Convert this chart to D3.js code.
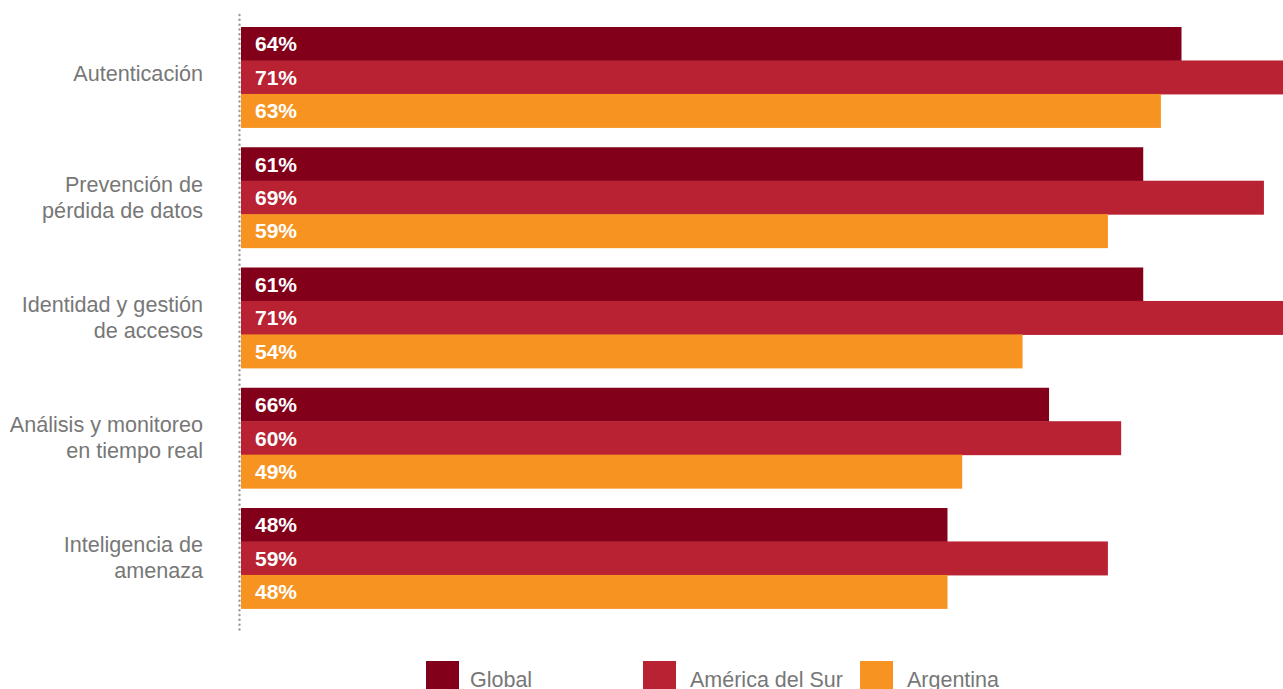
<!DOCTYPE html>
<html>
<head>
<meta charset="utf-8">
<script src="https://cdn.jsdelivr.net/npm/d3@7"></script>
<style>
  html, body { margin: 0; padding: 0; background: #ffffff; overflow: hidden; }
  svg { display: block; font-family: "Liberation Sans", Arial, sans-serif; }
</style>
</head>
<body>
<svg id="canvas" width="1283" height="689"></svg>
<script>
var categories = [
    ['Autenticación'],
    ['Prevención de', 'pérdida de datos'],
    ['Identidad y gestión', 'de accesos'],
    ['Análisis y monitoreo', 'en tiempo real'],
    ['Inteligencia de', 'amenaza']
];
var seriesNames = ['Global', 'América del Sur', 'Argentina'];
var seriesColors = ['#82001a', '#b82233', '#f79321'];

// printed labels
var globalLabels = [64, 61, 61, 66, 48];
var surLabels = [71, 69, 71, 60, 59];
var argentinaLabels = [63, 59, 54, 49, 48];

// bar lengths as drawn in the picture (the 66% bar is drawn shorter)
var globalBars = [63.9, 61.3, 61.3, 54.9, 48];
var surBars = [71, 69.5, 71, 59.8, 58.9];
var argentinaBars = [62.5, 58.9, 53.1, 49, 48];

(function() {
    var svg = d3.select('#canvas');
    var bars = [globalBars, surBars, argentinaBars];
    var labels = [globalLabels, surLabels, argentinaLabels];
    var idx = d3.range(categories.length);

    var x = d3.scaleLinear().domain([0, 71]).range([241, 1286]);
    var y0 = d3.scaleBand().domain(idx).range([27, 608.4]).paddingInner(0.165).paddingOuter(0);
    var y1 = d3.scaleBand().domain(d3.range(seriesNames.length)).range([0, y0.bandwidth()]);

    var rows = [];
    idx.forEach(function(i) {
        seriesNames.forEach(function(s, j) {
            rows.push({ cat: i, s: j, v: bars[j][i], label: labels[j][i] });
        });
    });

    // dotted axis
    svg.append('line')
        .attr('x1', 239.5).attr('x2', 239.5)
        .attr('y1', 15).attr('y2', 630)
        .attr('stroke', '#a09a96')
        .attr('stroke-width', 2.4)
        .attr('stroke-linecap', 'round')
        .attr('stroke-dasharray', '0.1,4.7');

    var g = svg.append('g');
    g.selectAll('rect')
        .data(rows)
        .enter().append('rect')
        .attr('x', x(0))
        .attr('y', function(d) { return y0(d.cat) + y1(d.s); })
        .attr('width', function(d) { return x(d.v) - x(0); })
        .attr('height', y1.bandwidth() + 0.5)
        .attr('fill', function(d) { return seriesColors[d.s]; });

    g.selectAll('text')
        .data(rows)
        .enter().append('text')
        .attr('x', x(0) + 14)
        .attr('y', function(d) { return y0(d.cat) + y1(d.s) + y1.bandwidth() / 2; })
        .attr('dy', '0.36em')
        .attr('fill', '#ffffff')
        .attr('font-size', '21px')
        .attr('font-weight', 'bold')
        .text(function(d) { return d.label + '%'; });

    // category labels
    var cat = svg.append('g').selectAll('text')
        .data(categories)
        .enter().append('text')
        .attr('text-anchor', 'end')
        .attr('fill', '#777777')
        .attr('font-size', '21.6px')
        .attr('x', 203)
        .attr('y', function(d, i) {
            var c = y0(i) + y0.bandwidth() / 2;
            return d.length === 1 ? c - 3 : c - (d.length - 1) * 13;
        });
    cat.selectAll('tspan')
        .data(function(d) { return d; })
        .enter().append('tspan')
        .attr('x', 203)
        .attr('dy', function(d, k) { return k === 0 ? '0.33em' : '26px'; })
        .text(function(d) { return d; });

    // legend
    var legendX = [426, 643, 860];
    var leg = svg.append('g').selectAll('g')
        .data(seriesNames)
        .enter().append('g')
        .attr('transform', function(d, i) { return 'translate(' + legendX[i] + ',661)'; });
    leg.append('rect')
        .attr('width', 33).attr('height', 33)
        .attr('fill', function(d, i) { return seriesColors[i]; });
    leg.append('text')
        .attr('x', function(d, i) { return i === 0 ? 44 : 47; })
        .attr('y', 26)
        .attr('fill', '#777777')
        .attr('font-size', '21.5px')
        .text(function(d) { return d; });
})();
</script>
</body>
</html>
